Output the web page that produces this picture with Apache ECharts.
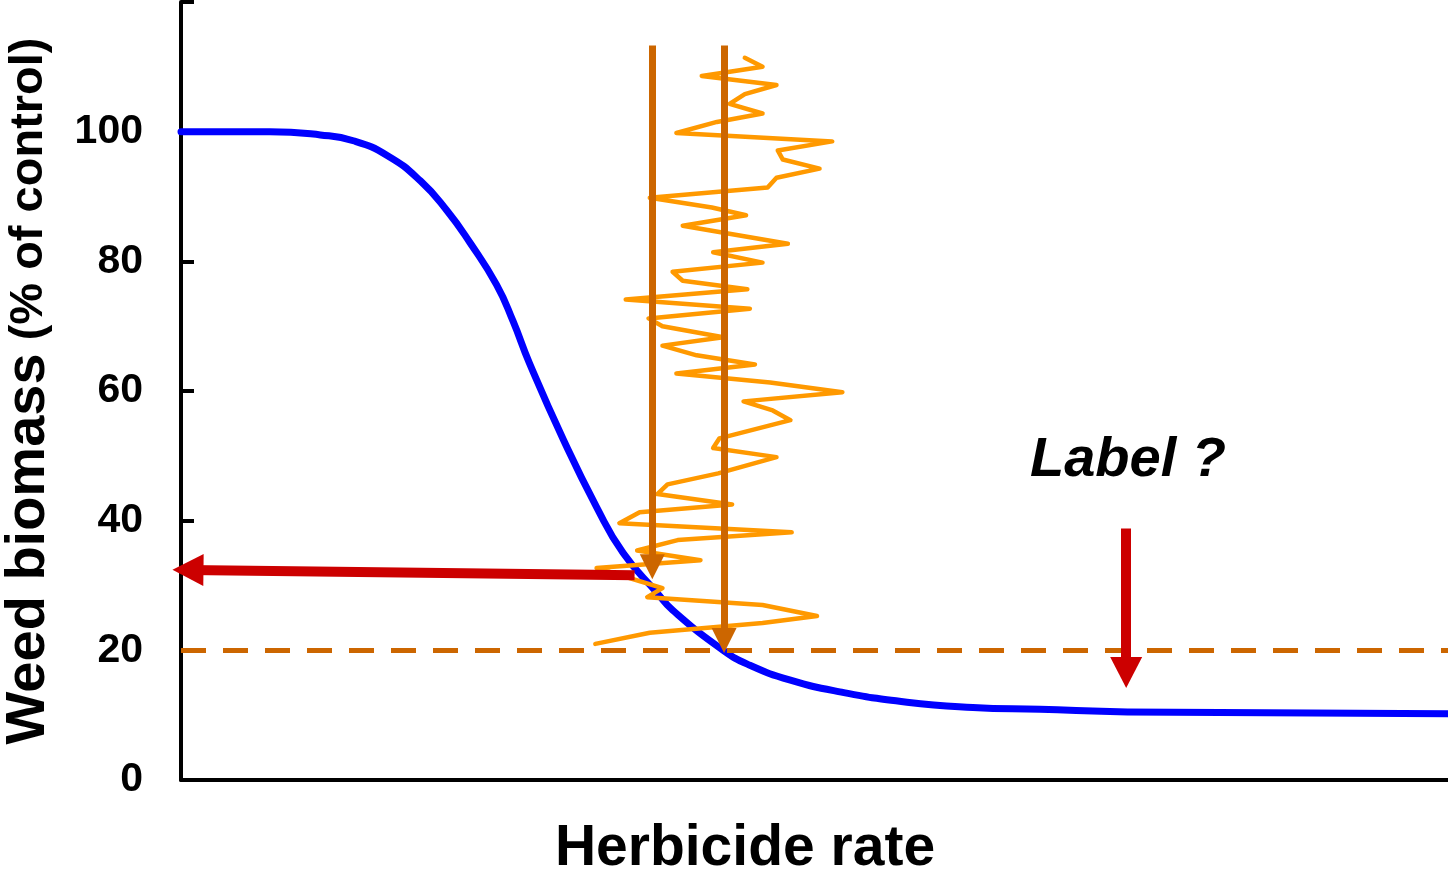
<!DOCTYPE html>
<html>
<head>
<meta charset="utf-8">
<title>Weed biomass vs herbicide rate</title>
<script src="https://cdn.jsdelivr.net/npm/echarts@6.0.0/dist/echarts.min.js"></script>
<style>
    html, body { margin: 0; padding: 0; background: #fff; }
    #chart { width: 1448px; height: 872px; }
</style>
</head>
<body>
<div id="chart"></div>
<script>
// dose-response curve
var curveRate    = [0, 7.0, 11.0, 13.6, 16.3, 18.9, 21.0, 22.8, 24.9, 26.2, 27.5, 30.2, 32.8, 34.9, 37.6, 38.8, 42.8, 44.9, 48.1, 52.0, 57.3, 62.5, 67.8, 74.7, 100];
var curveBiomass = [100, 100, 99.5, 98.6, 96.3, 92.4, 87.8, 82.9, 76.4, 70.8, 64.3, 52.4, 42.1, 35.0, 28.8, 26.2, 20.0, 17.7, 15.4, 13.6, 12.0, 11.2, 10.9, 10.5, 10.2];

// orange jagged trace, top to bottom
var noiseRate    = [44.5, 45.9, 41.1, 47.0, 44.5, 43.3, 45.9, 42.3, 39.1, 51.4, 47.1, 47.5, 50.4, 47.0, 46.3, 37.0, 41.9, 44.6, 39.6, 47.9,
                    42.0, 45.9, 38.8, 39.6, 44.7, 35.1, 44.9, 36.9, 38.0, 42.8, 38.0, 40.7, 45.3, 39.1, 46.5, 52.2, 44.4, 46.7, 48.1, 42.5,
                    42.0, 47.0, 42.4, 38.4, 37.6, 43.5, 36.2, 34.6, 48.2, 39.2, 36.0, 41.0, 32.8, 38.0, 36.8, 45.9, 50.2, 45.9, 37.0, 32.7];
var noiseBiomass = [111.4, 110.0, 108.6, 107.2, 105.8, 104.3, 102.8, 101.5, 99.8, 98.5, 97.1, 95.7, 94.3, 92.9, 91.4, 89.8, 88.3, 87.1, 85.5, 82.7,
                    81.4, 79.8, 78.4, 77.0, 75.7, 74.1, 72.7, 71.2, 70.0, 68.3, 67.0, 65.5, 64.1, 62.7, 61.3, 59.8, 58.4, 57.0, 55.5, 52.7,
                    51.2, 49.8, 47.3, 45.6, 44.1, 42.5, 41.3, 39.6, 38.2, 37.0, 35.4, 33.9, 32.7, 29.6, 28.2, 27.0, 25.3, 24.2, 22.7, 21.0];

var threshold = 20;
var yTicks = [0, 20, 40, 60, 80, 100];

// arrows: [fromRate, fromBiomass, toRate, toBiomass]
var brownArrows = [[37.2, 113.3, 37.2, 32.9], [42.86, 113.3, 42.86, 21.5]];
var redArrows   = [[35.8, 31.6, 0.55, 32.4], [74.6, 38.8, 74.6, 16.6]];

var FONT = '"Liberation Sans", Arial, sans-serif';

function zip(xs, ys) {
    return xs.map(function (x, i) { return [x, ys[i]]; });
}
function arrowLines(list) {
    return list.map(function (a) {
        return [{ coord: [a[0], a[1]] }, { coord: [a[2], a[3]] }];
    });
}

var chart = echarts.init(document.getElementById('chart'));
var option = {
    animation: false,
    grid: { left: 181, right: 0, top: 2, bottom: 92, containLabel: false, outerBoundsMode: 'none' },
    xAxis: {
        type: 'value',
        min: 0,
        max: 100,
        axisLine: { lineStyle: { color: '#000', width: 4 } },
        axisTick: { show: false },
        axisLabel: { show: false },
        splitLine: { show: false },
        name: 'Herbicide rate',
        nameLocation: 'middle',
        nameGap: 41,
        nameTextStyle: {
            fontFamily: FONT, fontSize: 57, fontWeight: 'bold', color: '#000',
            padding: [0, 139, 0, 0]
        }
    },
    yAxis: {
        type: 'value',
        min: 0,
        max: 120,
        interval: 20,
        axisLine: { lineStyle: { color: '#000', width: 4 } },
        axisTick: { inside: true, length: 13, lineStyle: { color: '#000', width: 4 } },
        axisLabel: {
            margin: 38,
            fontFamily: FONT, fontSize: 41, fontWeight: 'bold', color: '#000',
            formatter: function (v) { return yTicks.indexOf(v) >= 0 ? String(v) : ''; }
        },
        splitLine: { show: false },
        name: '{big|Weed biomass}{small| (% of control)}',
        nameLocation: 'middle',
        nameRotate: 90,
        nameGap: 124,
        nameTextStyle: {
            color: '#000',
            rich: {
                big: { fontFamily: FONT, fontSize: 56, fontWeight: 'bold', color: '#000' },
                small: { fontFamily: FONT, fontSize: 47, fontWeight: 'bold', color: '#000' }
            }
        }
    },
    series: [
        {
            name: 'curve',
            type: 'line',
            data: zip(curveRate, curveBiomass),
            smooth: 0.5,
            showSymbol: false,
            clip: false,
            z: 2,
            lineStyle: { color: '#0000ff', width: 7, cap: 'round' }
        },
        {
            name: 'noise',
            type: 'line',
            data: zip(noiseRate, noiseBiomass),
            showSymbol: false,
            z: 3,
            lineStyle: { color: '#ff9900', width: 4.5, join: 'round', cap: 'round' }
        },
        {
            name: 'threshold',
            type: 'line',
            data: [],
            z: 4,
            markLine: {
                silent: true,
                symbol: ['none', 'none'],
                label: { show: false },
                lineStyle: { color: '#cc6600', width: 5, type: [25, 17] },
                data: [{ yAxis: threshold }]
            }
        },
        {
            name: 'brownArrows',
            type: 'line',
            data: [],
            z: 5,
            clip: false,
            markLine: {
                silent: true,
                symbol: ['none', 'triangle'],
                symbolSize: [25, 25],
                label: { show: false },
                lineStyle: { color: '#cc6600', width: 7, type: 'solid' },
                data: arrowLines(brownArrows)
            }
        },
        {
            name: 'redArrows',
            type: 'line',
            data: [],
            z: 6,
            clip: false,
            markLine: {
                silent: true,
                symbol: ['none', 'triangle'],
                symbolSize: [32, 31],
                label: { show: false },
                lineStyle: { color: '#cc0000', width: 10, type: 'solid' },
                data: arrowLines(redArrows)
            }
        }
    ],
    graphic: [
        {
            type: 'text',
            x: 1030,
            y: 461,
            style: {
                text: 'Label ?',
                font: 'italic bold 56px ' + FONT,
                fill: '#000',
                verticalAlign: 'middle'
            }
        }
    ]
};
chart.setOption(option);
</script>
</body>
</html>
